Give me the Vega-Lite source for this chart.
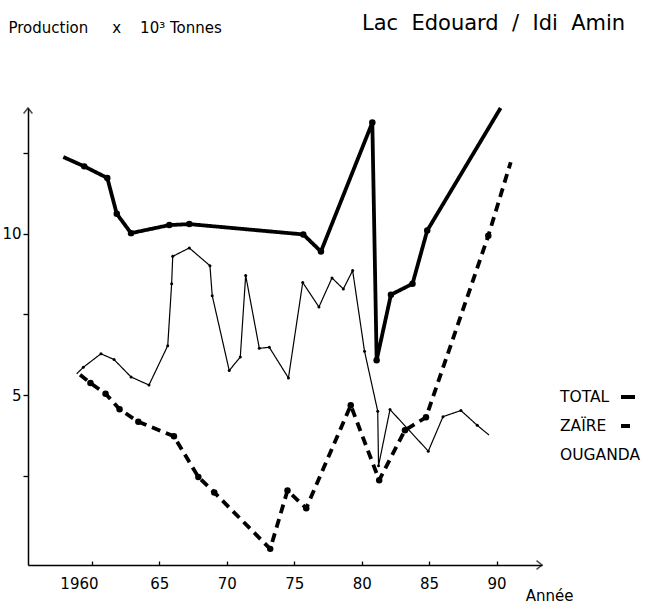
{
  "$schema": "https://vega.github.io/schema/vega-lite/v6.json",
  "width": 514,
  "height": 457,
  "autosize": {"type": "none"},
  "padding": {"left": 28, "top": 108, "right": 104, "bottom": 41},
  "background": "white",
  "config": {
    "view": {"stroke": null},
    "font": "DejaVu Sans"
  },
  "title": {
    "text": "Lac\u00a0\u00a0Edouard\u00a0\u00a0/\u00a0\u00a0Idi\u00a0\u00a0Amin",
    "anchor": "start",
    "frame": "group",
    "dx": 334,
    "offset": 0,
    "baseline": "middle",
    "dy": 25,
    "fontSize": 21,
    "fontWeight": "normal",
    "color": "black"
  },
  "datasets": {
    "prod": [
      {"series": "TOTAL", "year": 1957.88, "value": 12.38},
      {"series": "TOTAL", "year": 1959.43, "value": 12.09},
      {"series": "TOTAL", "year": 1961.14, "value": 11.73},
      {"series": "TOTAL", "year": 1961.84, "value": 10.62},
      {"series": "TOTAL", "year": 1962.90, "value": 10.02},
      {"series": "TOTAL", "year": 1965.74, "value": 10.27},
      {"series": "TOTAL", "year": 1967.22, "value": 10.30},
      {"series": "TOTAL", "year": 1975.67, "value": 9.98},
      {"series": "TOTAL", "year": 1976.98, "value": 9.45},
      {"series": "TOTAL", "year": 1980.79, "value": 13.45},
      {"series": "TOTAL", "year": 1981.11, "value": 6.08},
      {"series": "TOTAL", "year": 1982.17, "value": 8.11},
      {"series": "TOTAL", "year": 1983.77, "value": 8.45},
      {"series": "TOTAL", "year": 1984.86, "value": 10.10},
      {"series": "TOTAL", "year": 1990.30, "value": 13.90},
      {"series": "ZAÏRE", "year": 1959.12, "value": 5.63},
      {"series": "ZAÏRE", "year": 1959.89, "value": 5.37},
      {"series": "ZAÏRE", "year": 1961.01, "value": 5.04},
      {"series": "ZAÏRE", "year": 1962.05, "value": 4.56},
      {"series": "ZAÏRE", "year": 1963.44, "value": 4.17},
      {"series": "ZAÏRE", "year": 1966.08, "value": 3.72},
      {"series": "ZAÏRE", "year": 1967.89, "value": 2.46},
      {"series": "ZAÏRE", "year": 1969.07, "value": 1.98},
      {"series": "ZAÏRE", "year": 1973.22, "value": 0.23},
      {"series": "ZAÏRE", "year": 1974.50, "value": 2.04},
      {"series": "ZAÏRE", "year": 1975.89, "value": 1.49},
      {"series": "ZAÏRE", "year": 1979.19, "value": 4.68},
      {"series": "ZAÏRE", "year": 1981.30, "value": 2.36},
      {"series": "ZAÏRE", "year": 1983.21, "value": 3.91},
      {"series": "ZAÏRE", "year": 1984.77, "value": 4.31},
      {"series": "ZAÏRE", "year": 1989.39, "value": 9.94},
      {"series": "ZAÏRE", "year": 1991.05, "value": 12.22},
      {"series": "OUGANDA", "year": 1958.87, "value": 5.66},
      {"series": "OUGANDA", "year": 1959.36, "value": 5.86},
      {"series": "OUGANDA", "year": 1960.67, "value": 6.28},
      {"series": "OUGANDA", "year": 1961.64, "value": 6.10},
      {"series": "OUGANDA", "year": 1962.90, "value": 5.56},
      {"series": "OUGANDA", "year": 1964.23, "value": 5.31},
      {"series": "OUGANDA", "year": 1965.62, "value": 6.53},
      {"series": "OUGANDA", "year": 1965.91, "value": 8.45},
      {"series": "OUGANDA", "year": 1965.99, "value": 9.30},
      {"series": "OUGANDA", "year": 1967.22, "value": 9.56},
      {"series": "OUGANDA", "year": 1968.75, "value": 9.01},
      {"series": "OUGANDA", "year": 1968.92, "value": 8.08},
      {"series": "OUGANDA", "year": 1970.18, "value": 5.76},
      {"series": "OUGANDA", "year": 1971.00, "value": 6.18},
      {"series": "OUGANDA", "year": 1971.40, "value": 8.71},
      {"series": "OUGANDA", "year": 1972.41, "value": 6.45},
      {"series": "OUGANDA", "year": 1973.15, "value": 6.48},
      {"series": "OUGANDA", "year": 1974.57, "value": 5.53},
      {"series": "OUGANDA", "year": 1975.63, "value": 8.49},
      {"series": "OUGANDA", "year": 1976.83, "value": 7.73},
      {"series": "OUGANDA", "year": 1977.80, "value": 8.63},
      {"series": "OUGANDA", "year": 1978.64, "value": 8.29},
      {"series": "OUGANDA", "year": 1979.33, "value": 8.86},
      {"series": "OUGANDA", "year": 1980.21, "value": 6.36},
      {"series": "OUGANDA", "year": 1981.19, "value": 4.50},
      {"series": "OUGANDA", "year": 1981.25, "value": 2.81},
      {"series": "OUGANDA", "year": 1982.10, "value": 4.55},
      {"series": "OUGANDA", "year": 1984.94, "value": 3.26},
      {"series": "OUGANDA", "year": 1986.03, "value": 4.33},
      {"series": "OUGANDA", "year": 1987.36, "value": 4.52},
      {"series": "OUGANDA", "year": 1988.57, "value": 4.06},
      {"series": "OUGANDA", "year": 1989.44, "value": 3.76}
    ]
  },
  "layer": [
    {
      "data": {"name": "prod"},
      "mark": {"type": "line", "color": "black", "strokeCap": "butt", "strokeJoin": "round"},
      "encoding": {
        "x": {
          "field": "year", "type": "quantitative",
          "scale": {"domain": [1955.26, 1993.37], "nice": false, "zero": false},
          "axis": {
            "values": [1960, 1965, 1970, 1975, 1980, 1985, 1990],
            "labelExpr": "datum.value == 1960 ? '1960' : '' + (datum.value - 1900)",
            "grid": false,
            "domainColor": "black",
            "domainWidth": 1.5,
            "tickColor": "black",
            "tickWidth": 1.3,
            "tickSize": -4,
            "labelPadding": 15,
            "labelFontSize": 15,
            "labelColor": "black",
            "labelOffset": {"condition": {"test": "datum.value === 1960", "value": -13}, "value": 0},
            "title": "Année",
            "titleX": 521,
            "titleY": 30,
            "titleAlign": "center",
            "titleBaseline": "middle",
            "titleFontSize": 15,
            "titleFontWeight": "normal",
            "titleColor": "black"
          }
        },
        "y": {
          "field": "value", "type": "quantitative",
          "scale": {"domain": [-0.27, 13.9], "nice": false, "zero": false},
          "axis": {
            "values": [2.5, 5, 7.5, 10, 12.5],
            "labelExpr": "datum.value == 5 || datum.value == 10 ? '' + datum.value : ''",
            "grid": false,
            "domainColor": "black",
            "domainWidth": 1.5,
            "tickColor": "black",
            "tickWidth": 1.3,
            "tickSize": 5,
            "labelPadding": 2,
            "labelFontSize": 15,
            "labelColor": "black",
            "title": "Production\u00a0\u00a0\u00a0\u00a0\u00a0x\u00a0\u00a0\u00a0\u00a010³\u00a0Tonnes",
            "titleAngle": 0,
            "titleAlign": "left",
            "titleBaseline": "middle",
            "titleX": -20,
            "titleY": -81,
            "titleFontSize": 15,
            "titleFontWeight": "normal",
            "titleColor": "black"
          }
        },
        "strokeDash": {
          "field": "series", "type": "nominal",
          "scale": {"domain": ["TOTAL", "ZAÏRE", "OUGANDA"], "range": [[1, 0], [9, 6], [1, 0]]},
          "legend": {
            "orient": "none",
            "legendX": 591,
            "legendY": 280,
            "title": null,
            "symbolType": "stroke",
            "symbolSize": 400,
            "symbolStrokeWidth": 4,
            "symbolStrokeColor": "black",
            "labelFontSize": 15.5,
            "labelColor": "black",
            "labelAlign": "left",
            "labelOffset": -77,
            "rowPadding": 11,
            "encode": {"symbols": {"update": {
              "opacity": {"signal": "datum.value === 'OUGANDA' ? 0 : 1"},
              "size": {"value": 196},
              "strokeWidth": {"value": 4}
            }}}
          }
        },
        "strokeWidth": {
          "condition": {"test": "datum.series === 'OUGANDA'", "value": 1.2},
          "value": 3.8
        }
      }
    },
    {
      "data": {"name": "prod"},
      "transform": [
        {"window": [{"op": "row_number", "as": "rn"}, {"op": "count", "as": "n"}], "groupby": ["series"], "sort": [{"field": "year"}], "frame": [null, null]},
        {"filter": "datum.rn > 1 && datum.rn < datum.n"}
      ],
      "mark": {"type": "point", "filled": true, "color": "black", "opacity": 1},
      "encoding": {
        "x": {"field": "year", "type": "quantitative"},
        "y": {"field": "value", "type": "quantitative"},
        "size": {
          "condition": {"test": "datum.series === 'OUGANDA'", "value": 9},
          "value": 42
        }
      }
    },
    {
      "data": {"values": [{}]},
      "mark": {"type": "point", "shape": "M -1 -0.8 L 0 0 L -1 0.8", "filled": false, "stroke": "black", "strokeWidth": 1.5, "size": 120},
      "encoding": {"x": {"datum": 1993.37}, "y": {"datum": -0.27}}
    },
    {
      "data": {"values": [{}]},
      "mark": {"type": "point", "shape": "M -0.8 1 L 0 0 L 0.8 1", "filled": false, "stroke": "black", "strokeWidth": 1.5, "size": 120},
      "encoding": {"x": {"datum": 1955.26}, "y": {"datum": 13.9}}
    }
  ]
}
